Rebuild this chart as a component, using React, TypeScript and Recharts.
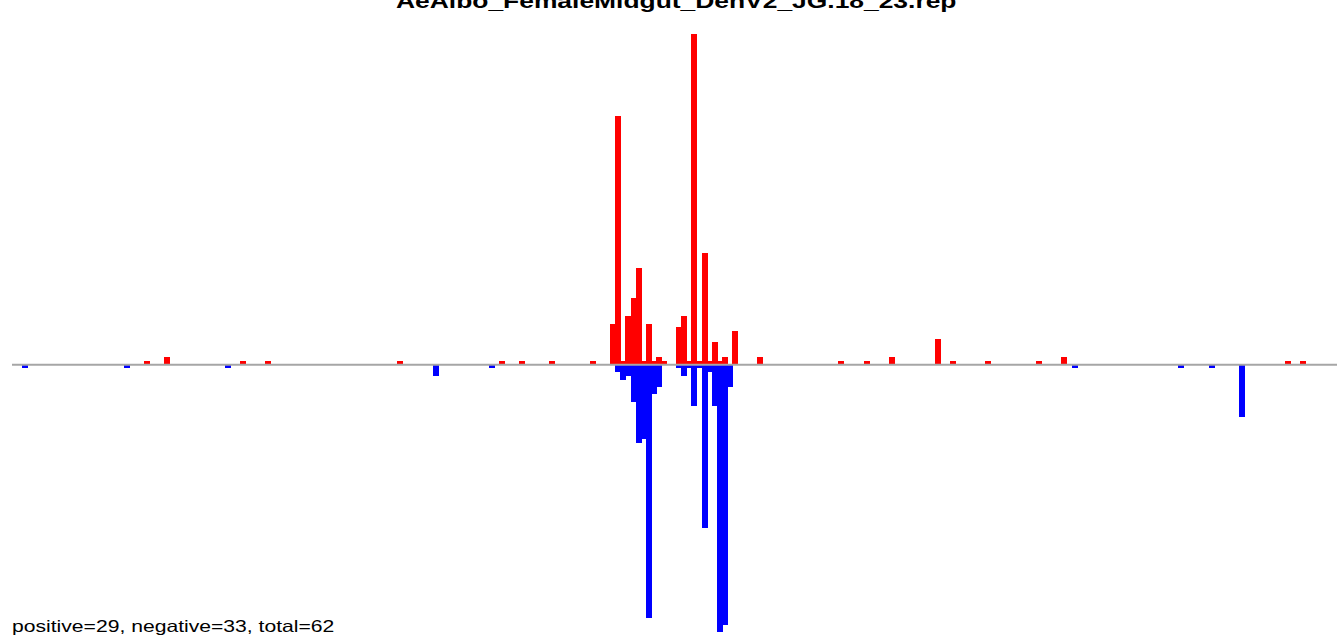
import React from 'react';
import { BarChart, Bar, XAxis, YAxis, ReferenceLine } from 'recharts';

// positions (slot index along the sequence) and read counts
const posSlots = [24, 28, 43, 48, 74, 94, 98, 104, 112,
  116, 117, 118, 119, 120, 121, 122, 123, 124, 125, 126,
  129, 130, 131, 132, 133, 134, 135, 136, 137, 138, 140,
  145, 161, 166, 171, 180, 183, 190, 200, 205, 249, 252];
const posCounts = [1, 2, 1, 1, 1, 1, 1, 1, 1,
  11, 67, 1, 13, 18, 26, 1, 11, 1, 2, 1,
  10, 13, 1, 89, 1, 30, 1, 6, 1, 2, 9,
  2, 1, 1, 2, 7, 1, 1, 1, 2, 1, 1];

const negSlots = [0, 20, 40, 81, 92,
  117, 118, 119, 120, 121, 122, 123, 124, 125,
  129, 130, 131, 132, 133, 134, 135, 136, 137, 138, 139,
  207, 228, 234, 240];
const negCounts = [1, 1, 1, 3, 1,
  2, 4, 3, 10, 21, 20, 68, 8, 6,
  1, 3, 1, 11, 1, 44, 2, 11, 72, 70, 6,
  1, 1, 1, 14];

const firstSlot = -2;
const lastSlot = 261;

const title = 'AeAlbo_FemaleMidgut_DenV2_JG.18_23.rep';
const footnote = 'positive=29, negative=33, total=62';

const data = [];
for (let s = firstSlot; s <= lastSlot; s++) {
  const pi = posSlots.indexOf(s);
  const ni = negSlots.indexOf(s);
  data.push({
    slot: s,
    pos: pi >= 0 ? posCounts[pi] : 0,
    neg: ni >= 0 ? -negCounts[ni] : 0,
  });
}

const slotW = 5.07;
const chartW = 12 + data.length * slotW;
const font = '"Liberation Sans", Arial, Helvetica, sans-serif';

// solid block, one px wider so neighbours touch like the original
const SolidBar = (props: any) => {
  const { x, y, width, height, fill } = props;
  if (!height) return null;
  const top = Math.min(y, y + height);
  return (
    <rect x={x} y={top} width={width + 1} height={Math.abs(height)} fill={fill} shapeRendering="crispEdges" />
  );
};

const App = () => {
  return (
    <div style={{ position: 'absolute', left: 0, top: 0, width: 1337, height: 638, overflow: 'hidden', background: '#fff' }}>
      <BarChart
        width={chartW}
        height={638}
        data={data}
        stackOffset="sign"
        barCategoryGap={0}
        barGap={0}
        margin={{ top: 30, right: 0, bottom: 0, left: 12 }}
      >
        <XAxis dataKey="slot" hide />
        <YAxis type="number" domain={[-73.5, 90]} allowDataOverflow hide />
        <Bar dataKey="pos" stackId="s" fill="#ff0000" shape={SolidBar} isAnimationActive={false} />
        <Bar dataKey="neg" stackId="s" fill="#0000ff" shape={SolidBar} isAnimationActive={false} />
        <ReferenceLine y={0} stroke="#a6a6a6" strokeWidth={2} />
      </BarChart>
      <div
        style={{
          position: 'absolute', left: 396, top: -9.4, fontFamily: font, fontWeight: 'bold',
          fontSize: 20, lineHeight: 1, whiteSpace: 'nowrap', color: '#000',
          transform: 'scaleX(1.32)', transformOrigin: 'left top',
        }}
      >
        {title}
      </div>
      <div
        style={{
          position: 'absolute', left: 12, top: 617.7, fontFamily: font,
          fontSize: 16.5, lineHeight: 1, whiteSpace: 'nowrap', color: '#000',
          transform: 'scaleX(1.28)', transformOrigin: 'left top',
        }}
      >
        {footnote}
      </div>
    </div>
  );
};

export default App;
